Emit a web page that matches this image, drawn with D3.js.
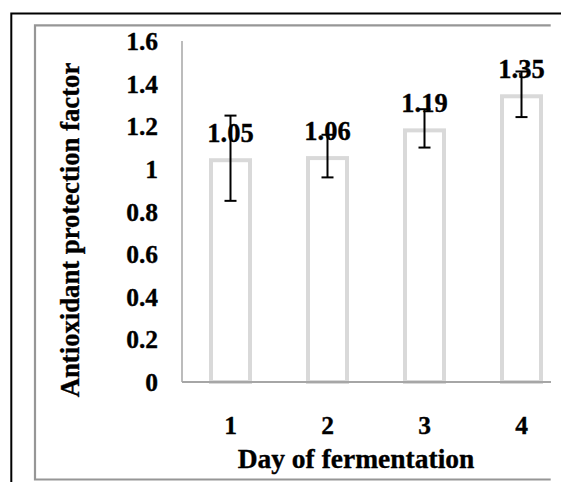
<!DOCTYPE html>
<html><head><meta charset="utf-8">
<script src="https://cdn.jsdelivr.net/npm/d3@7"></script>
<style>html,body{margin:0;padding:0;background:#fff;overflow:hidden}</style>
</head><body>
<svg id="c" width="561" height="482"></svg>
<script>
const categories = ["1","2","3","4"];
const values = [1.05, 1.06, 1.19, 1.35];
const errors = [0.20, 0.10, 0.09, 0.107];
const labels = ["1.05","1.06","1.19","1.35"];
const yTicks = [0, 0.2, 0.4, 0.6, 0.8, 1, 1.2, 1.4, 1.6];
const yTickLabels = ["0","0.2","0.4","0.6","0.8","1","1.2","1.4","1.6"];
const xTitle = "Day of fermentation";
const yTitle = "Antioxidant protection factor";

const svg = d3.select("#c");
const font = "'Liberation Serif','Times New Roman',serif";

// borders
svg.append("path").attr("d","M11.3,482 V13.5 H561").attr("fill","none").attr("stroke","#000").attr("stroke-width",2);
svg.append("path").attr("d","M550.7,25.3 H35 V479.5 H550.7").attr("fill","none").attr("stroke","#969696").attr("stroke-width",2.2);

const x = d3.scaleBand().domain(categories).range([182, 570]).paddingInner(0.557).paddingOuter(0.2785);
const y = d3.scaleLinear().domain([0, 1.6]).range([382, 41]);

// bars
const bw = x.bandwidth();
svg.selectAll("rect.bar").data(values).join("rect")
  .attr("x",(d,i)=>x(categories[i])+2).attr("y",d=>y(d)+2)
  .attr("width",bw-4).attr("height",d=>y(0)-y(d)-2)
  .attr("fill","#fff").attr("stroke","#d9d9d9").attr("stroke-width",4);

// axes lines
svg.append("line").attr("x1",182).attr("x2",182).attr("y1",y(1.6)).attr("y2",y(0)).attr("stroke","#a6a6a6").attr("stroke-width",1.5);
svg.append("line").attr("x1",182).attr("x2",551).attr("y1",y(0)).attr("y2",y(0)).attr("stroke","#a6a6a6").attr("stroke-width",1.8);

const txt = sel => sel.attr("font-family",font).attr("font-weight","bold")
  .attr("stroke","#000").attr("stroke-width",0.35).attr("fill","#000");

// y tick labels
svg.selectAll("text.yt").data(yTicks).join("text")
  .attr("x",158).attr("y",d=>y(d)+9).attr("text-anchor","end")
  .attr("font-size",25.5).call(txt)
  .text((d,i)=>yTickLabels[i]);

// x tick labels
svg.selectAll("text.xt").data(categories).join("text")
  .attr("x",d=>x(d)+bw/2).attr("y",434).attr("text-anchor","middle")
  .attr("font-size",25.5).call(txt)
  .text(d=>d);

// data labels
svg.selectAll("text.dl").data(values).join("text")
  .attr("x",(d,i)=>x(categories[i])+bw/2).attr("y",d=>y(d)-16).attr("text-anchor","middle")
  .attr("font-size",26.5).call(txt)
  .text((d,i)=>labels[i]);

// error bars
const eb = svg.append("g").attr("stroke","#000").attr("stroke-width",2);
values.forEach((v,i)=>{
  const cx = x(categories[i])+bw/2;
  eb.append("line").attr("x1",cx).attr("x2",cx).attr("y1",y(v+errors[i])).attr("y2",y(v-errors[i]));
  eb.append("line").attr("x1",cx-6).attr("x2",cx+6).attr("y1",y(v+errors[i])).attr("y2",y(v+errors[i]));
  eb.append("line").attr("x1",cx-6).attr("x2",cx+6).attr("y1",y(v-errors[i])).attr("y2",y(v-errors[i]));
});

// titles
svg.append("text").attr("x",356).attr("y",468).attr("text-anchor","middle")
  .attr("font-size",27.5).call(txt).text(xTitle);
svg.append("text").attr("transform","translate(79,230) rotate(-90)").attr("text-anchor","middle")
  .attr("font-size",26.7).call(txt).text(yTitle);
</script>
</body></html>
